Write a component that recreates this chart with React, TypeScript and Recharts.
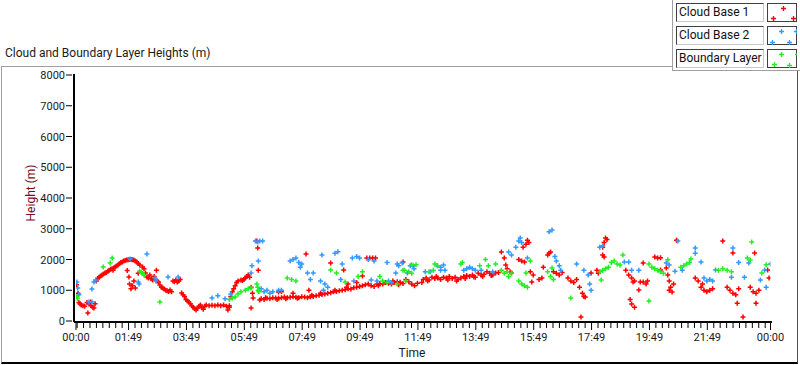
import React from "react";
import { ScatterChart, Scatter, XAxis, YAxis } from "recharts";

// [hours since 00:00, height in m]
const cloudBase1: [number, number][] = [
  [0.02, 1180], [0.07, 900], [0.1, 600], [0.14, 560], [0.18, 520], [0.24, 500], [0.3, 480], [0.41, 260],
  [0.38, 600], [0.45, 560], [0.5, 620], [0.52, 500], [0.58, 450], [0.62, 420], [0.66, 560],
  [0.7, 1300], [0.75, 1380], [0.8, 1420], [0.85, 1460], [0.9, 1500], [0.95, 1530], [1.0, 1560], [1.05, 1580],
  [1.1, 1620], [1.15, 1650], [1.2, 1680], [1.25, 1700], [1.28, 1650], [1.3, 1720], [1.35, 1760], [1.4, 1790],
  [1.45, 1820], [1.5, 1860], [1.55, 1900], [1.6, 1920], [1.65, 1950], [1.7, 1970], [1.75, 1980], [1.8, 1990],
  [1.85, 2000], [1.9, 2000], [1.95, 1990], [2.0, 1980], [2.05, 1950], [2.1, 1920], [2.15, 1870], [2.2, 1820],
  [2.3, 1760], [2.35, 1700], [1.77, 1640], [1.83, 1430], [1.85, 1200], [1.9, 1050], [1.95, 1150], [2.0, 1300],
  [2.05, 1070], [2.15, 1550],
  [2.4, 1560], [2.45, 1430], [2.5, 1400], [2.55, 1500], [2.6, 1370], [2.65, 1330], [2.7, 1450], [2.78, 1650],
  [2.8, 1300], [2.85, 1270], [2.9, 1170], [2.95, 1100], [3.0, 1070], [3.05, 1040], [3.1, 1000], [3.15, 980],
  [3.2, 960], [3.25, 1010], [3.3, 950], [3.35, 1300], [3.4, 1280], [3.45, 1330], [3.5, 1270], [3.55, 1300],
  [3.6, 1350], [3.65, 910], [3.7, 850], [3.75, 800], [3.8, 700], [3.85, 650], [3.9, 620], [3.95, 560],
  [4.0, 500], [4.05, 450], [4.1, 400], [4.15, 360], [4.2, 420], [4.25, 480], [4.3, 520], [4.35, 430],
  [4.4, 380], [4.45, 480], [4.5, 520], [4.6, 500], [4.7, 510], [4.8, 500], [4.9, 520], [5.0, 500],
  [5.1, 520], [5.2, 480], [5.25, 360], [5.3, 500], [5.3, 450],
  [5.35, 800], [5.4, 950], [5.45, 1050], [5.5, 1150], [5.55, 1250], [5.6, 1300], [5.7, 1330], [5.75, 1320],
  [5.8, 1350], [5.85, 1400], [5.9, 1450], [5.95, 1500], [6.0, 1420], [6.05, 1100], [6.1, 900], [6.12, 750],
  [6.05, 420], [6.25, 2600], [6.28, 2370], [6.3, 1650],
  [6.35, 680], [6.4, 720], [6.5, 700], [6.6, 740], [6.7, 720], [6.8, 760], [6.9, 750], [7.0, 740],
  [7.1, 760], [7.2, 780], [7.3, 760], [7.4, 770], [7.5, 790], [7.6, 770], [7.7, 760], [7.8, 790],
  [7.9, 780], [8.0, 760], [8.1, 790], [8.2, 800], [8.3, 820], [8.4, 840], [7.0, 940], [7.1, 950],
  [7.5, 900], [8.05, 1000], [7.95, 2180], [6.55, 760], [6.95, 700], [7.25, 720], [7.65, 740],
  [8.15, 840], [8.45, 900], [8.95, 1000], [9.35, 1100],
  [8.5, 860], [8.6, 880], [8.7, 900], [8.8, 920], [8.9, 950], [9.0, 960], [9.1, 980], [9.2, 1000],
  [9.3, 1020], [9.4, 1050], [9.5, 1040], [9.6, 1080], [9.7, 1100], [9.8, 1120], [9.4, 1200], [9.7, 1250],
  [8.8, 1890], [9.25, 1660], [9.9, 1460], [10.05, 2050], [10.15, 2050], [10.25, 2050], [10.35, 2050],
  [11.3, 1920], [11.4, 1350],
  [9.9, 1150], [10.0, 1180], [10.1, 1200], [10.2, 1150], [10.3, 1120], [10.4, 1200], [10.5, 1220],
  [10.6, 1200], [10.7, 1250], [10.8, 1230], [10.9, 1200], [11.0, 1250], [11.1, 1280], [11.2, 1260],
  [11.3, 1220], [11.5, 1280], [11.6, 1200], [11.7, 1150], [11.8, 1230], [10.45, 1150], [10.95, 1300],
  [11.15, 1180], [11.95, 1250], [12.15, 1300], [12.45, 1450], [12.85, 1330], [13.15, 1300], [13.45, 1380],
  [13.75, 1430], [14.05, 1450], [14.35, 1480],
  [12.0, 1350], [12.1, 1400], [12.2, 1330], [12.3, 1420], [12.4, 1380], [12.5, 1400], [12.6, 1350],
  [12.7, 1420], [12.8, 1400], [12.9, 1450], [13.0, 1380], [13.1, 1420], [13.2, 1350], [13.3, 1400],
  [13.4, 1450], [13.5, 1480], [13.6, 1450], [13.7, 1500], [13.8, 1420], [13.9, 1550], [14.0, 1500],
  [14.1, 1520], [14.2, 1600], [14.3, 1550], [14.4, 1500], [14.5, 1560], [14.6, 1580],
  [14.7, 2240], [14.8, 2050], [14.85, 1820], [14.9, 1700], [15.0, 1600], [15.05, 1560],
  [15.3, 2000], [15.4, 1950], [15.5, 1920], [15.45, 2400], [15.55, 2500], [15.6, 2630], [15.65, 2550],
  [15.7, 1600], [15.8, 1500], [15.75, 1270], [16.0, 1350], [16.1, 1400], [16.15, 1750], [16.3, 2150],
  [16.35, 2200], [16.4, 2240], [16.5, 1600], [16.6, 1550], [16.7, 1500], [16.8, 1580],
  [17.0, 1400], [17.1, 1300], [17.2, 1250], [17.3, 1350], [17.4, 1100], [17.5, 900], [17.55, 800],
  [17.6, 780], [17.45, 130], [17.8, 1560],
  [18.0, 1650], [18.05, 1550], [18.2, 2400], [18.25, 2550], [18.35, 2650], [18.3, 2700], [18.2, 2150],
  [18.25, 2080], [19.0, 1650], [19.1, 1500], [19.2, 1400], [19.3, 1300], [19.25, 1270], [19.15, 700],
  [19.2, 550], [19.3, 450], [19.5, 1270], [19.6, 1270], [19.45, 1010], [19.6, 1890], [19.75, 1300],
  [19.7, 1200], [20.0, 2080], [20.1, 2050], [20.2, 2060], [20.2, 1660], [20.4, 1720], [20.45, 1500],
  [20.5, 1300], [20.55, 1100], [20.6, 940], [20.5, 1000], [20.65, 1200], [20.75, 2630],
  [21.4, 1400], [21.5, 1300], [21.6, 1100], [21.7, 1000], [21.8, 950], [21.9, 1000], [22.0, 1050],
  [21.65, 1200], [22.35, 2600], [22.5, 1100], [22.6, 1000], [22.7, 900], [22.8, 850], [22.9, 1050],
  [22.7, 2210], [22.85, 580], [23.05, 130], [23.3, 1100], [23.4, 950], [23.5, 900], [23.6, 1000],
  [23.45, 2210], [23.5, 580], [23.9, 1660], [23.95, 1400],
];

const cloudBase2: [number, number][] = [
  [0.03, 1270], [0.06, 1070], [0.1, 850], [0.45, 620], [0.55, 620], [0.55, 1040], [0.62, 1270], [0.68, 1330],
  [1.87, 2020], [2.15, 1270], [2.18, 1200], [2.45, 2180], [2.73, 1400], [2.76, 1300], [3.18, 1430],
  [3.53, 1430], [4.7, 750], [4.9, 820], [5.15, 720], [5.35, 880],
  [6.05, 1560], [6.08, 1800], [6.2, 2600], [6.28, 2570], [6.35, 2600], [6.45, 2600], [6.3, 1950],
  [6.4, 1050], [6.5, 950], [6.6, 1000], [6.7, 900], [6.8, 950], [7.0, 1000], [7.1, 1000],
  [7.4, 1950], [7.5, 2000], [7.6, 2050], [7.7, 1900], [7.8, 1850], [7.75, 1750], [8.0, 1560], [8.2, 1560],
  [8.1, 1350], [8.45, 1300], [8.6, 1200], [8.7, 1100], [8.55, 1000], [8.5, 2150], [8.95, 2200],
  [9.05, 2250], [9.2, 1850], [9.55, 2050], [9.7, 2100], [9.8, 2050], [9.15, 1350], [9.6, 1300],
  [10.1, 2000], [10.3, 1950], [10.75, 1900], [10.2, 1330], [10.4, 1300], [10.8, 1300], [10.9, 1250],
  [11.1, 1850], [11.15, 1800], [11.05, 1560], [11.45, 1560], [11.55, 1800],
  [11.27, 1890], [11.65, 1800], [11.68, 1700], [12.07, 1600], [12.24, 1600], [12.48, 1800], [12.6, 1750],
  [12.7, 1820], [12.6, 1650], [12.75, 1650], [13.4, 1650], [13.5, 1700], [13.6, 1750], [13.7, 1700],
  [13.8, 1650], [14.0, 1650], [14.4, 1600], [14.95, 2240], [15.05, 2150], [15.2, 2400], [15.3, 2600],
  [15.35, 2700], [15.4, 2550], [15.6, 2050], [16.35, 2900], [16.45, 2960], [16.55, 2100], [16.6, 1950],
  [16.7, 1800], [16.75, 1650], [17.3, 1850], [17.55, 1650], [17.7, 1500], [17.75, 1200], [17.8, 1000],
  [18.1, 2400], [18.2, 2450], [18.95, 1920], [19.1, 1920], [19.2, 1650], [19.45, 1650], [20.4, 1890],
  [20.5, 1820], [20.7, 1620], [20.8, 2600], [20.95, 1650], [21.4, 2370], [21.4, 2200], [21.6, 1920],
  [21.7, 1400], [21.8, 1300], [21.9, 1350], [22.0, 1300], [22.1, 1660], [22.7, 2370], [22.9, 1900],
  [22.65, 1420], [23.1, 1420], [23.25, 1890], [23.65, 1330], [23.8, 1660], [23.85, 1100], [24.0, 1850],
];

const boundaryLayer: [number, number][] = [
  [0.02, 790], [0.05, 730], [0.94, 1760], [1.18, 1890], [1.25, 2050], [2.2, 1620], [2.25, 1580],
  [2.3, 1550], [2.35, 1500], [2.9, 620], [5.3, 700], [5.4, 750], [5.5, 780], [5.6, 880], [5.7, 950],
  [5.85, 1000], [5.95, 1050], [6.05, 1070], [6.25, 1200], [6.28, 1100], [6.3, 1000], [6.32, 950],
  [7.3, 1400], [7.45, 1350], [7.6, 1300], [8.8, 1660], [9.0, 1560], [9.3, 1270], [9.75, 1450],
  [9.9, 1600], [10.5, 1450], [10.6, 1300], [10.75, 1250], [11.1, 1200], [11.35, 1650], [11.4, 1300],
  [11.3, 1650], [11.5, 1600], [11.6, 1830], [11.75, 1830], [11.6, 1550], [12.2, 1600], [12.35, 1650],
  [12.4, 1850], [12.5, 1800], [13.3, 1850], [13.35, 1900], [13.95, 1800], [14.15, 2000], [14.25, 1800],
  [14.5, 1850], [14.7, 1650], [14.8, 1550], [14.9, 1600], [14.95, 1450], [15.05, 1560], [15.3, 1300],
  [15.4, 1200], [15.5, 1150], [15.6, 1100], [15.55, 1560], [15.7, 1950], [16.3, 1600], [16.4, 1450],
  [16.5, 1350], [16.45, 1720], [17.1, 750],
  [18.1, 1600], [18.2, 1650], [18.3, 1700], [18.4, 1750], [18.15, 1330], [18.5, 1900], [18.6, 1950],
  [18.7, 1850], [18.8, 1820], [18.9, 2150], [19.8, 650], [19.8, 1850], [19.9, 1750], [20.0, 1700],
  [20.1, 1650], [20.2, 1600], [20.3, 1550], [20.45, 1990], [20.9, 1750], [21.0, 1800], [21.1, 1850],
  [21.2, 1900], [21.25, 2020], [22.2, 1650], [22.35, 1700], [22.5, 1650], [22.65, 1600], [23.2, 2050],
  [23.3, 1980], [23.35, 2570], [23.7, 1560], [23.85, 1830],
];

const timeTickLabels = ["00:00", "01:49", "03:49", "05:49", "07:49", "09:49", "11:49", "13:49", "15:49", "17:49", "19:49", "21:49", "00:00"];
const heightTicks = [0, 1000, 2000, 3000, 4000, 5000, 6000, 7000, 8000];

const FONT = "Roboto, 'Open Sans', sans-serif";
const RED = "#ff0000";
const BLUE = "#3399ff";
const GREEN = "#22ee22";

const toPoints = (arr: [number, number][]) => arr.map(([t, h]) => ({ t, h }));

// major ticks: start, every 2 h from 01:49, end; minor ticks every 2/9 h
const firstMajor = 109 / 60;
const majorTicks = [0, ...Array.from({ length: 11 }, (_, i) => firstMajor + 2 * i), 24];
const minorTicks: number[] = [];
for (let v = firstMajor - 2 / 9; v > 0; v -= 2 / 9) minorTicks.push(v);
for (let v = firstMajor; v < 24; v += 2 / 9) minorTicks.push(v);
const allTicks = Array.from(new Set([...majorTicks, ...minorTicks].map((v) => +v.toFixed(4)))).sort((a, b) => a - b);
const isMajor = (v: number) => majorTicks.some((m) => Math.abs(m - v) < 0.001);

const Plus = (props: any) => {
  const { cx, cy, fill } = props;
  if (cx == null || cy == null) return null;
  return (
    <path
      d={`M${cx - 2.5},${cy}h5M${cx},${cy - 2.5}v5`}
      stroke={fill}
      strokeWidth={1.5}
    />
  );
};

const TimeTick = (props: any) => {
  const { x, y, payload } = props;
  const v = payload.value;
  const major = isMajor(v);
  const idx = majorTicks.findIndex((m) => Math.abs(m - v) < 0.001);
  return (
    <g>
      <line x1={x} x2={x} y1={y + 1} y2={y + (major ? 8 : 6)} stroke="#000" strokeWidth={1} />
      {major && (
        <text x={x} y={y + 19} textAnchor="middle" fontSize={11} fontFamily={FONT} fill="#1a1a1a">
          {timeTickLabels[idx]}
        </text>
      )}
    </g>
  );
};

const HeightTick = (props: any) => {
  const { x, y, payload } = props;
  return (
    <g>
      <line x1={x - 8} x2={x - 2} y1={y} y2={y} stroke="#000" strokeWidth={1} />
      <text x={x - 9} y={y + 4} textAnchor="end" fontSize={11} fontFamily={FONT} fill="#1a1a1a">
        {payload.value}
      </text>
    </g>
  );
};

const legendItems = [
  { name: "Cloud Base 1", color: RED, marks: [[12, 3], [2, 13], [22, 13]] },
  { name: "Cloud Base 2", color: BLUE, marks: [[10, 3], [25, 3], [1, 14], [18, 14]] },
  { name: "Boundary Layer", color: GREEN, marks: [[10, 3], [26, 3], [3, 13], [18, 14]] },
];

const App = () => {
  return (
    <div style={{ position: "absolute", left: 0, top: 0, width: 800, height: 365, background: "#fff", fontFamily: FONT, overflow: "hidden" }}>
      {/* outer frame */}
      <div style={{ position: "absolute", left: 1, top: 66, width: 795, height: 295, borderLeft: "1px solid #a0a0a0", borderTop: "1px solid #a0a0a0", borderRight: "1px solid #505050", borderBottom: "2px solid #000" }} />
      <div style={{ position: "absolute", left: 5, top: 46, fontSize: 12, color: "#1a1a1a" }}>
        Cloud and Boundary Layer Heights (m)
      </div>
      {/* legend panel */}
      <div style={{ position: "absolute", left: 672, top: 0, width: 128, height: 70, background: "#fff", borderLeft: "1px solid #a0a0a0", borderBottom: "1px solid #a0a0a0" }}>
        {legendItems.map((it, i) => (
          <div key={it.name} style={{ position: "absolute", left: 3, top: 3 + i * 23 }}>
            <div style={{ position: "absolute", left: 0, top: 0, width: 84, height: 17, borderStyle: "solid", borderWidth: 1, borderColor: "#404040 #c8c8c8 #c8c8c8 #404040", fontSize: 12, lineHeight: "17px", paddingLeft: 2, color: "#111", whiteSpace: "nowrap", boxSizing: "content-box" }}>
              {it.name}
            </div>
            <svg width={30} height={19} style={{ position: "absolute", left: 91, top: 0 }}>
              <rect x={0.5} y={0.5} width={29} height={18} fill="#fff" stroke="#404040" />
              {it.marks.map(([mx, my], k) => (
                <path key={k} d={`M${mx + 2},${my + 2.5}h5M${mx + 4.5},${my}v5`} stroke={it.color} strokeWidth={1.3} />
              ))}
            </svg>
          </div>
        ))}
      </div>
      <div style={{ position: "absolute", left: 0, top: 0 }}>
        <ScatterChart width={800} height={365} margin={{ top: 74, right: 28, bottom: 13, left: 14 }}>
          <XAxis
            dataKey="t"
            type="number"
            domain={[0, 24]}
            ticks={allTicks}
            interval={0}
            tick={<TimeTick />}
            tickLine={false}
            tickSize={0}
            tickMargin={0}
            axisLine={{ stroke: "#000", strokeWidth: 2 }}
            height={30}
            padding={{ left: 2, right: 1.5 }}
            allowDataOverflow
          />
          <XAxis xAxisId="top" orientation="top" type="number" domain={[0, 24]} tick={false} tickLine={false} height={0} axisLine={{ stroke: "#000", strokeWidth: 2 }} />
          <YAxis
            dataKey="h"
            type="number"
            domain={[0, 8000]}
            ticks={heightTicks}
            interval={0}
            tick={<HeightTick />}
            tickLine={false}
            tickSize={0}
            tickMargin={0}
            axisLine={{ stroke: "#000", strokeWidth: 2 }}
            width={60}
            padding={{ top: 1, bottom: 1 }}
            allowDataOverflow
          />
          <YAxis yAxisId="right" orientation="right" type="number" domain={[0, 8000]} tick={false} tickLine={false} width={0} axisLine={{ stroke: "#a0a0a0", strokeWidth: 1.5 }} />
          <Scatter name="Cloud Base 1" data={toPoints(cloudBase1)} fill={RED} shape={<Plus />} isAnimationActive={false} />
          <Scatter name="Cloud Base 2" data={toPoints(cloudBase2)} fill={BLUE} shape={<Plus />} isAnimationActive={false} />
          <Scatter name="Boundary Layer" data={toPoints(boundaryLayer)} fill={GREEN} shape={<Plus />} isAnimationActive={false} />
        </ScatterChart>
      </div>
      <div style={{ position: "absolute", left: 31, top: 193, transform: "translate(-50%, -50%) rotate(-90deg)", fontSize: 12, color: "#7a0a1e", whiteSpace: "nowrap" }}>
        Height (m)
      </div>
      <div style={{ position: "absolute", left: 412, top: 353, transform: "translate(-50%, -50%)", fontSize: 12, color: "#1a1a1a" }}>
        Time
      </div>
    </div>
  );
};

export default App;
